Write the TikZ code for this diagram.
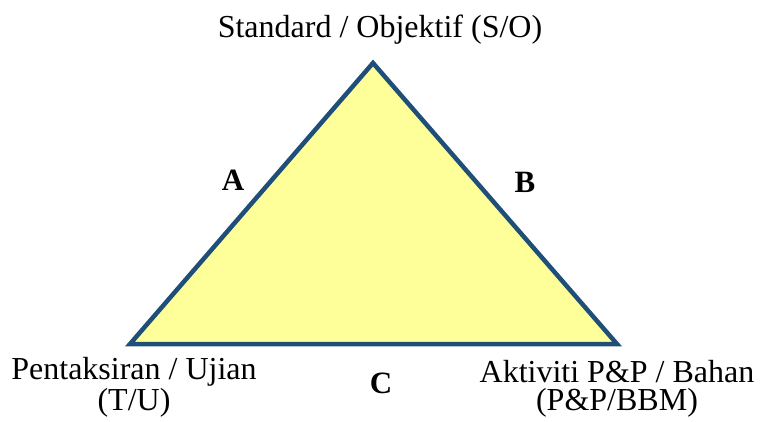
\documentclass[tikz,border=0pt]{standalone}
\usepackage{fontspec}
\setmainfont{Liberation Serif}
\definecolor{triblue}{HTML}{1F4E79}
\definecolor{triyellow}{HTML}{FFFF99}
\begin{document}
\begin{tikzpicture}[x=1pt,y=-1pt,
  lbl/.style={font=\fontsize{32}{28}\selectfont, align=center, inner sep=0pt, anchor=base},
  side/.style={font=\bfseries\fontsize{31}{31}\selectfont, inner sep=0pt},
  tri/.style={draw=triblue, fill=triyellow, line width=4.5pt, line join=miter}]
\useasboundingbox (0,0) rectangle (761,421);
\coordinate (top) at (373,63);
\coordinate (bl) at (130,344);
\coordinate (br) at (617,344);
\draw[tri] (top) -- (bl) -- (br) -- cycle;
\node[lbl] (so) at (380,37) {Standard / Objektif (S/O)};
\node[lbl] (tu) at (134,410) {Pentaksiran / Ujian\\(T/U)};
\node[lbl] (pp) at (617,410) {Aktiviti P\&P / Bahan\\(P\&P/BBM)};
\node[side] (a) at (233,180) {A};
\node[side] (b) at (525,182) {B};
\node[side] (c) at (381,383) {C};
\end{tikzpicture}
\end{document}
